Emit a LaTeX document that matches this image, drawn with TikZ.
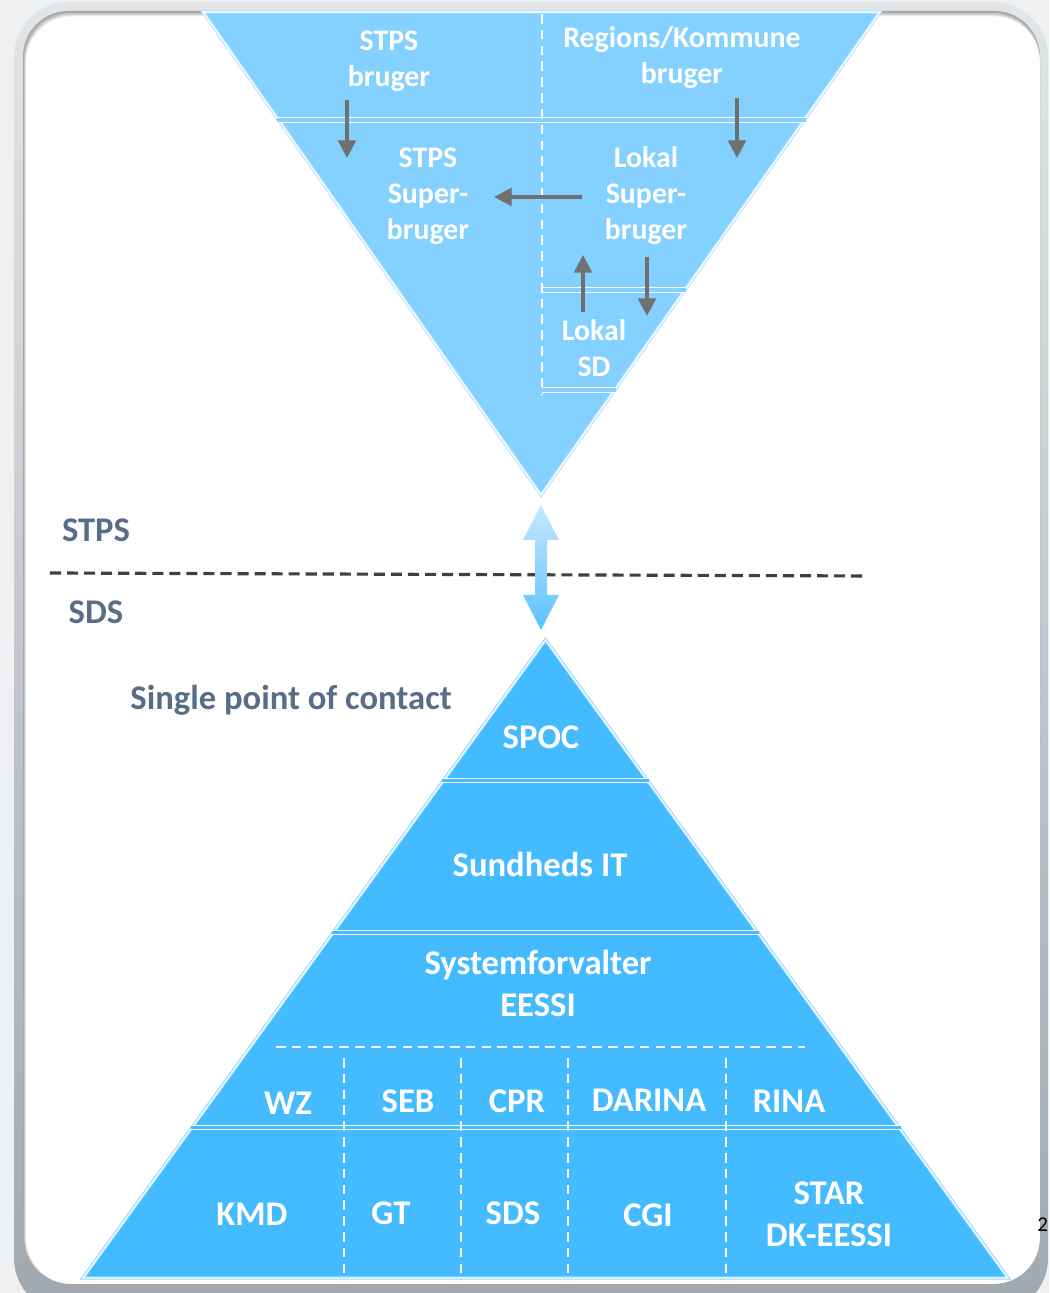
\documentclass[tikz,border=0pt]{standalone}
\usepackage{fontspec}
\setmainfont{Carlito}
\usetikzlibrary{arrows.meta}
\definecolor{topblue}{RGB}{132,208,255}
\definecolor{pyrblue}{RGB}{68,187,255}
\definecolor{arrowgray}{RGB}{112,112,112}
\definecolor{labgray}{RGB}{88,110,136}
\definecolor{pagebg}{RGB}{238,240,241}
\definecolor{rimtop}{RGB}{226,229,231}
\definecolor{rimbot}{RGB}{160,169,176}
\definecolor{arrowtop}{RGB}{200,232,255}
\definecolor{arrowbot}{RGB}{90,194,255}
\begin{document}
\begin{tikzpicture}[
    toptext/.style={text=white, font=\bfseries\fontsize{17}{20.5}\selectfont, align=center, inner sep=0pt},
    pyrtext/.style={text=white, font=\bfseries\fontsize{19.7}{23.9}\selectfont, align=center, inner sep=0pt},
    sidetext/.style={text=labgray, font=\bfseries\fontsize{19.7}{23.9}\selectfont, inner sep=0pt},
    rim/.style={draw=#1!60!white, line width=0.6pt, double=white, double distance=0.7pt},
    sepline/.style={draw=white, line width=0.8pt, double=#1, double distance=1.8pt},
    whitedash/.style={draw=white, line width=0.9pt, dash pattern=on 5.5pt off 3.5pt},
    flowarrow/.style={draw=arrowgray, line width=2pt, -{Triangle[length=10pt,width=10pt]}}
  ]
\useasboundingbox (0.000000,0.000000) rectangle (20.980000,25.860000);

% Drawing slide frame
\fill [pagebg] (0.000000,0.000000) rectangle (20.980000,25.860000);%
\shade [top color=rimtop, bottom color=rimbot, rounded corners=1.1cm] (0.280000,-0.400000) rectangle (20.960000,25.820000);%
\fill [white, rounded corners=0.92cm] (0.460000,0.180000) rectangle (20.800000,25.640000);%
\begin{scope}
  \clip [rounded corners=0.92cm] (0.460000,0.180000) rectangle (20.800000,25.640000);
  \foreach \s in {1,...,6}
    \fill [black, opacity=0.07, even odd rule] (0.000000,-1.000000) rectangle (21.000000,26.000000)
      [rounded corners=0.92cm] (0.460000+0.010*\s,0.180000) rectangle (20.800000,25.640000-0.018*\s);
\end{scope}

% Drawing upper triangle
\fill [topblue] (4.060000,25.620000) -- (17.600000,25.620000) -- (10.820000,15.960000) -- cycle;%
\draw [rim=topblue] (4.060000,25.620000) -- (17.600000,25.620000) -- (10.820000,15.960000) -- cycle;%

% Drawing separators of upper triangle
\draw [sepline=topblue] (5.540000,23.460000) -- (16.110000,23.460000);%
\draw [sepline=topblue] (10.840000,20.060000) -- (13.720000,20.060000);%
\draw [sepline=topblue] (10.840000,18.060000) -- (12.310000,18.060000);%
\draw [whitedash] (10.840000,25.580000) -- (10.840000,17.960000);%

% Marking upper texts
\draw (7.780000,24.640000) node (stpsuser) [toptext] {STPS\\bruger};%
\draw (13.640000,24.700000) node (regionuser) [toptext] {Regions/Kommune\\bruger};%
\draw (8.560000,21.940000) node (stpssuper) [toptext] {STPS\\Super-\\bruger};%
\draw (12.920000,21.940000) node (lokalsuper) [toptext] {Lokal\\Super-\\bruger};%
\draw (11.880000,18.900000) node (lokalsd) [toptext] {Lokal\\SD};%

% Arrow end points
\coordinate (stpsA) at (6.940000,23.860000);
\coordinate (stpsB) at (6.940000,22.700000);
\coordinate (regA) at (14.740000,23.900000);
\coordinate (regB) at (14.740000,22.700000);
\coordinate (superA) at (11.640000,21.920000);
\coordinate (superB) at (9.880000,21.920000);
\coordinate (sdA) at (11.660000,19.620000);
\coordinate (sdB) at (11.660000,20.760000);
\coordinate (lokA) at (12.940000,20.720000);
\coordinate (lokB) at (12.940000,19.540000);

% Drawing arrows of upper triangle
\draw [flowarrow] (stpsA) -- (stpsB);%
\draw [flowarrow] (regA) -- (regB);%
\draw [flowarrow] (superA) -- (superB);%
\draw [flowarrow] (sdA) -- (sdB);%
\draw [flowarrow] (lokA) -- (lokB);%

% Drawing line between STPS and SDS
\draw [black!75, line width=1.8pt, dash pattern=on 6.3pt off 3.4pt] (1.000000,14.400000) -- (17.320000,14.340000);%

% Drawing double arrow
\shade [top color=arrowtop, bottom color=arrowbot] (10.820000,15.760000) -- (11.180000,15.060000) -- (10.940000,15.060000)
  -- (10.940000,13.960000) -- (11.180000,13.960000) -- (10.820000,13.260000) -- (10.460000,13.960000)
  -- (10.700000,13.960000) -- (10.700000,15.060000) -- (10.460000,15.060000) -- cycle;%

% Marking side labels
\draw (1.920000,15.260000) node (stpslabel) [sidetext] {STPS};%
\draw (1.920000,13.620000) node (sdslabel) [sidetext] {SDS};%
\draw (5.820000,11.860000) node (spoclabel) [sidetext] {Single point of contact};%

% Drawing pyramid
\fill [pyrblue] (10.910000,13.060000) -- (20.160000,0.300000) -- (1.660000,0.300000) -- cycle;%
\draw [rim=pyrblue] (10.910000,13.060000) -- (20.160000,0.300000) -- (1.660000,0.300000) -- cycle;%

% Drawing separators of pyramid
\draw [sepline=pyrblue] (8.840000,10.250000) -- (12.980000,10.250000);%
\draw [sepline=pyrblue] (6.640000,7.210000) -- (15.180000,7.210000);%
\draw [sepline=pyrblue] (3.810000,3.310000) -- (18.010000,3.310000);%
\draw [whitedash] (5.520000,4.920000) -- (16.100000,4.920000);%
\foreach \x in {6.88,9.22,11.36,14.52}
  \draw [whitedash] (\x,4.700000) -- (\x,0.300000);%

% Marking pyramid texts
\draw (10.820000,11.120000) node (spoc) [pyrtext] {SPOC};%
\draw (10.800000,8.580000) node (sundit) [pyrtext] {Sundheds IT};%
\draw (10.760000,6.200000) node (sysforv) [pyrtext] {Systemforvalter\\EESSI};%
\draw (5.760000,3.800000) node (wz) [pyrtext] {WZ};%
\draw (8.160000,3.840000) node (seb) [pyrtext] {SEB};%
\draw (10.340000,3.840000) node (cpr) [pyrtext] {CPR};%
\draw (12.980000,3.860000) node (darina) [pyrtext] {DARINA};%
\draw (15.780000,3.840000) node (rina) [pyrtext] {RINA};%
\draw (5.040000,1.580000) node (kmd) [pyrtext] {KMD};%
\draw (7.820000,1.600000) node (gt) [pyrtext] {GT};%
\draw (10.260000,1.600000) node (sds) [pyrtext] {SDS};%
\draw (12.960000,1.560000) node (cgi) [pyrtext] {CGI};%
\draw (16.580000,1.580000) node (star) [pyrtext] {STAR\\DK-EESSI};%

% Marking page number
\draw (20.970000,1.360000) node (pagenum) [anchor=east, inner sep=0pt, font=\fontsize{12}{14}\selectfont] {2};%
\end{tikzpicture}
\end{document}
